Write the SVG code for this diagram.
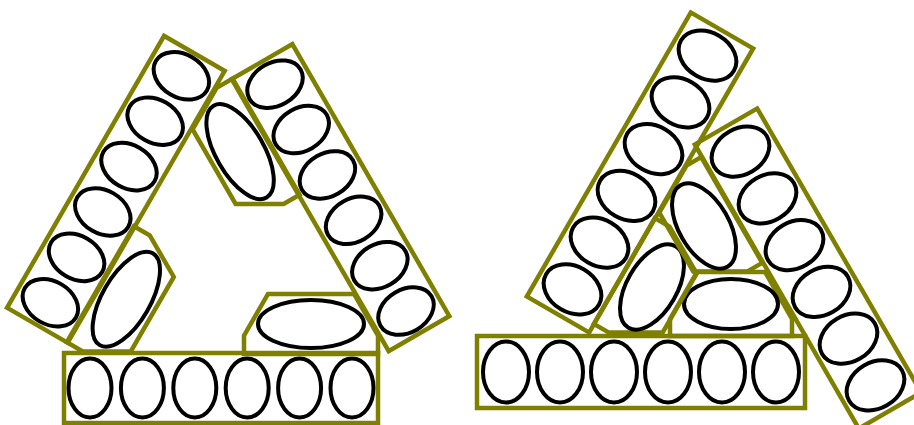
<svg xmlns="http://www.w3.org/2000/svg" width="914" height="425" viewBox="0 0 914 425">
<style>
.frame{fill:none;stroke:#808000;stroke-width:4.5;stroke-linejoin:miter}
.egg{fill:none;stroke:#000;stroke-width:4}
</style>
<defs>
<g id="barL">
<rect class="frame" x="-157" y="-35" width="314" height="70"/>
<ellipse class="egg" cx="-131" cy="0" rx="21.5" ry="29.5"/>
<ellipse class="egg" cx="-78.6" cy="0" rx="21.5" ry="29.5"/>
<ellipse class="egg" cx="-26.2" cy="0" rx="21.5" ry="29.5"/>
<ellipse class="egg" cx="26.2" cy="0" rx="21.5" ry="29.5"/>
<ellipse class="egg" cx="78.6" cy="0" rx="21.5" ry="29.5"/>
<ellipse class="egg" cx="131" cy="0" rx="21.5" ry="29.5"/>
</g>
<g id="pieceL">
<polygon class="frame" points="-67,30 -67,11.6 -43,-30 43,-30 67,11.6 67,30"/>
<ellipse class="egg" cx="0" cy="0" rx="53" ry="24"/>
</g>
<g id="barR">
<rect class="frame" x="-164" y="-36" width="328" height="72"/>
<ellipse class="egg" cx="-135" cy="0" rx="23" ry="30.5"/>
<ellipse class="egg" cx="-81" cy="0" rx="23" ry="30.5"/>
<ellipse class="egg" cx="-27" cy="0" rx="23" ry="30.5"/>
<ellipse class="egg" cx="27" cy="0" rx="23" ry="30.5"/>
<ellipse class="egg" cx="81" cy="0" rx="23" ry="30.5"/>
<ellipse class="egg" cx="135" cy="0" rx="23" ry="30.5"/>
</g>
<g id="pieceR">
<polygon class="frame" points="-61,32 -61,15 -34,-32 34,-32 61,15 61,32"/>
<ellipse class="egg" cx="0" cy="0" rx="47" ry="25"/>
</g>
</defs>
<rect x="0" y="0" width="914" height="425" fill="#fff"/>
<g id="left-figure">
<g id="left-bottom">
<use href="#barL" transform="translate(221,388)"/>
<use href="#pieceL" transform="translate(311,324)"/>
</g>
<g id="left-side" transform="rotate(120 225.8 258.3)">
<use href="#barL" transform="translate(221,388)"/>
<use href="#pieceL" transform="translate(311,324)"/>
</g>
<g id="right-side" transform="rotate(240 225.8 258.3)">
<use href="#barL" transform="translate(221,388)"/>
<use href="#pieceL" transform="translate(311,324)"/>
</g>
</g>
<g id="right-figure">
<g id="r-bar-bottom"><use href="#barR" transform="translate(641,372)"/></g>
<g id="r-bar-left"><use href="#barR" transform="translate(640,172.5) rotate(-60)"/></g>
<g id="r-bar-right"><use href="#barR" transform="translate(808,268.5) rotate(60)"/></g>
<g id="r-piece-bottom"><use href="#pieceR" transform="translate(731,304)"/></g>
<g id="r-piece-left"><use href="#pieceR" transform="translate(652,287) rotate(120)"/></g>
<g id="r-piece-top"><use href="#pieceR" transform="translate(704,226) rotate(240)"/></g>
</g>
</svg>
